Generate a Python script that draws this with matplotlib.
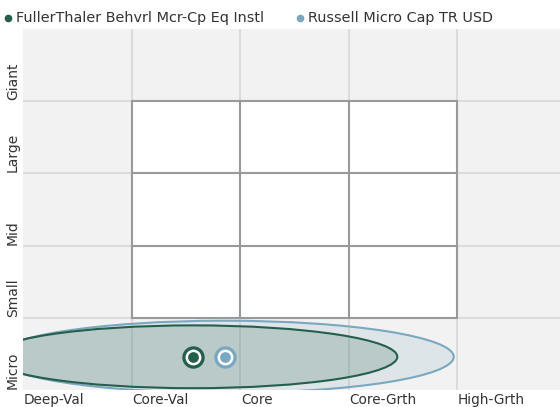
import numpy as np
import matplotlib
matplotlib.use('Agg')
from matplotlib import pyplot as plt
from matplotlib.patches import Ellipse, Rectangle
from matplotlib.lines import Line2D

# Eixos do style box
styles = ['Deep-Val', 'Core-Val', 'Core', 'Core-Grth', 'High-Grth']
sizes = ['Micro', 'Small', 'Mid', 'Large', 'Giant']

# Fundos: nome, centroide e zona de propriedade
names = ['FullerThaler Behvrl Mcr-Cp Eq Instl', 'Russell Micro Cap TR USD']
centroid_x = [1.57, 1.86]
centroid_y = [0.46, 0.46]
zone_w = [3.76, 4.22]
zone_h = [0.87, 1.00]

colors = ['#265e4c', '#7ba7bf']
fill_alpha = [0.20, 0.16]

W, H = 560, 407
fig = plt.figure(figsize=(W / 100, H / 100), dpi=100)
plt.rcParams['font.family'] = ['DejaVu Sans']

# area do grafico em pixels
left, right, top, bottom = 23, 565.5, 29, 390
ax = fig.add_axes([left / W, 1 - bottom / H, (right - left) / W, (bottom - top) / H])
ax.set_xlim(0, 5)
ax.set_ylim(0, 5)
ax.set_facecolor('#f2f2f2')
for s in ax.spines.values():
    s.set_visible(False)
ax.set_xticks([])
ax.set_yticks([])

# grade cinza clara
for k in range(1, 5):
    ax.axvline(k, color='#dcdcdc', lw=1.5, zorder=1)
    ax.axhline(k, color='#dcdcdc', lw=1.5, zorder=1)

# caixa branca 3x3
ax.add_patch(Rectangle((1, 1), 3, 3, facecolor='white', edgecolor='none', zorder=2))
for k in range(1, 5):
    ax.plot([k, k], [1, 4], color='#999999', lw=1.5, zorder=3, solid_capstyle='projecting')
    ax.plot([1, 4], [k, k], color='#999999', lw=1.5, zorder=3, solid_capstyle='projecting')

# zonas (elipses), a maior primeiro
for i in [1, 0]:
    ax.add_patch(Ellipse((centroid_x[i], centroid_y[i]), zone_w[i], zone_h[i],
                         facecolor=colors[i], alpha=fill_alpha[i], edgecolor='none', zorder=4))
    ax.add_patch(Ellipse((centroid_x[i], centroid_y[i]), zone_w[i], zone_h[i],
                         facecolor='none', edgecolor=colors[i], lw=1.5, zorder=5))

# centroides
for i in range(2):
    ax.scatter(centroid_x[i], centroid_y[i], s=260, color=colors[i], zorder=6, linewidths=0)
    ax.scatter(centroid_x[i], centroid_y[i], s=130, color='white', zorder=7, linewidths=0)
    ax.scatter(centroid_x[i], centroid_y[i], s=60, color=colors[i], zorder=8, linewidths=0)

# rotulos
px = 1 / 108.5  # um pixel em unidades de dados (horizontal)
for k, lab in enumerate(styles):
    ax.text(k + 1 * px, -3 / 72.2, lab, ha='left', va='top', fontsize=9.8,
            color='#333333', clip_on=False)
for k, lab in enumerate(sizes):
    ax.text(-3 * px, k + 1 / 72.2, lab, ha='left', va='bottom', rotation=90, fontsize=10,
            color='#333333', rotation_mode='anchor', clip_on=False)

# legenda
leg_x = [8, 300]
for i in range(2):
    fig.add_artist(Line2D([leg_x[i] / W], [1 - 18 / H], marker='o', markersize=4.5,
                          color=colors[i], linestyle='none', transform=fig.transFigure))
    fig.text((leg_x[i] + 8) / W, 1 - 18 / H, names[i], ha='left', va='center',
             fontsize=10.4, color='#333333')

fig.savefig('out.png', dpi=100)
